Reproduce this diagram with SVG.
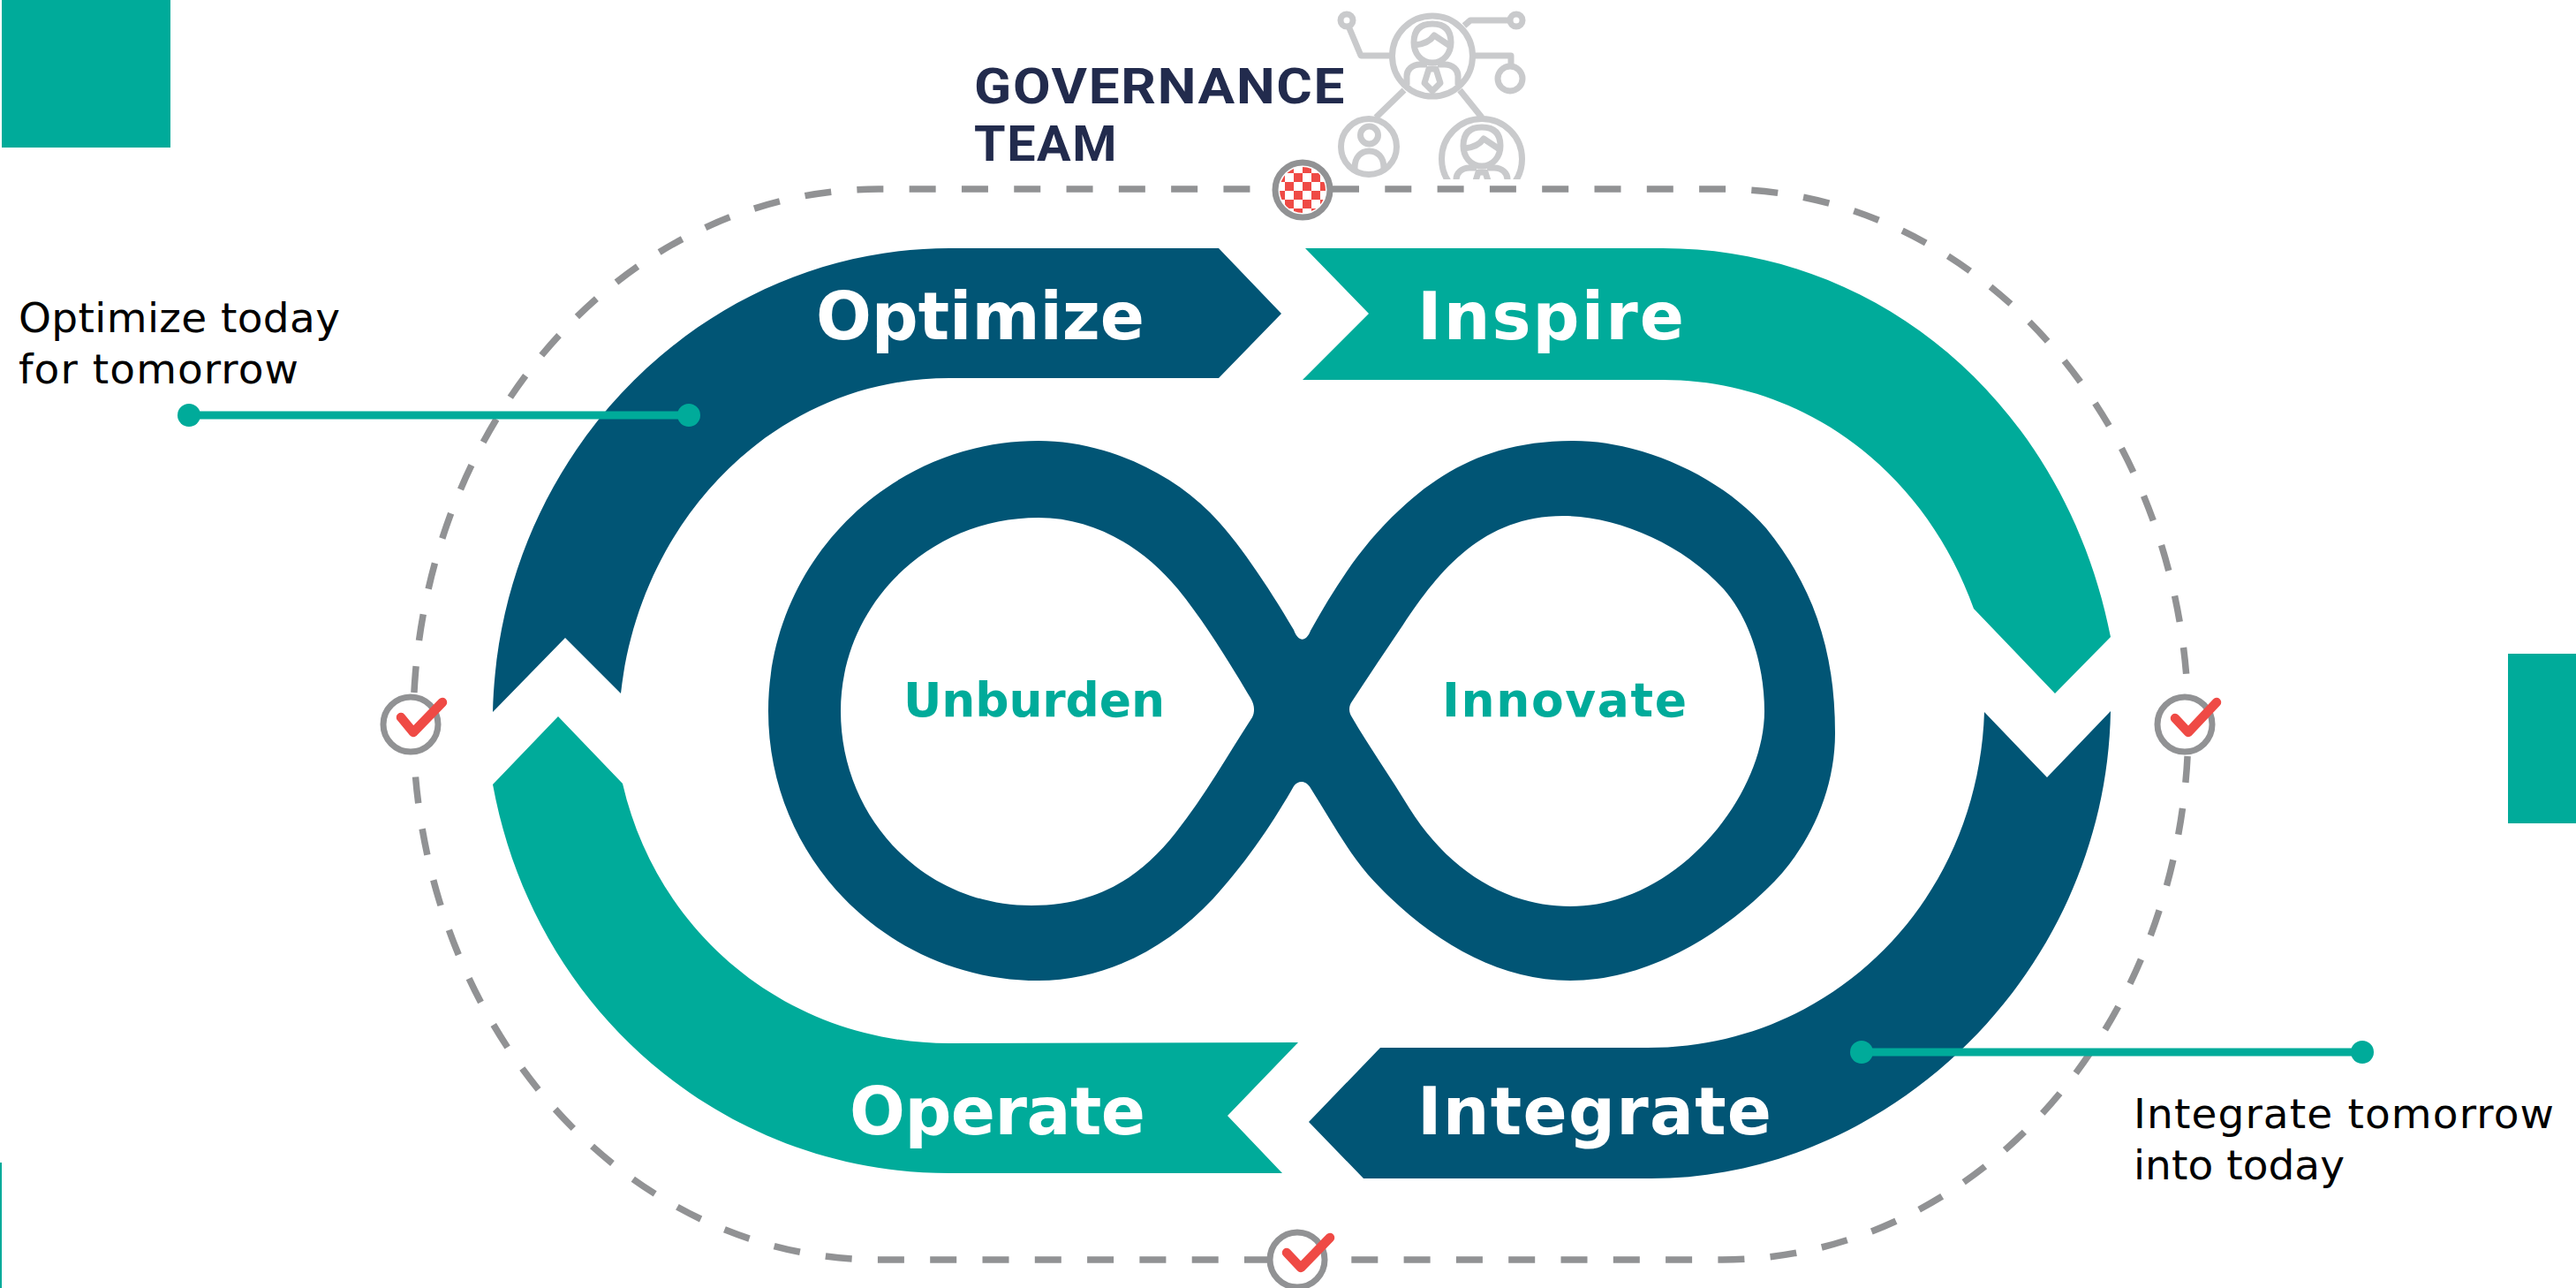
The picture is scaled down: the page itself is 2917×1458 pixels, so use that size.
<svg xmlns="http://www.w3.org/2000/svg" width="2917" height="1458" viewBox="0 0 2917 1458">
<style>
.teal{fill:#00ab9a}.dark{fill:#015575}
.big{font-family:"DejaVu Sans",sans-serif;font-weight:700;font-size:74px;fill:#fff}
.mid{font-family:"DejaVu Sans",sans-serif;font-weight:700;font-size:53.5px;fill:#00ab9a}
.note{font-family:"DejaVu Sans",sans-serif;font-size:47px;fill:#000}
.gov{font-family:Roboto,sans-serif;font-weight:700;font-size:55px;fill:#222b4d;letter-spacing:1.5px}
.track{fill:none;stroke:#919294;stroke-width:7.5;stroke-dasharray:30 29.3}
.ring{fill:#fff;stroke:#919294;stroke-width:7}
.tick{fill:none;stroke:#ef4a45;stroke-width:10.5;stroke-linecap:round;stroke-linejoin:round}
.lead{stroke:#00ab9a;stroke-width:9}
.ico{fill:none;stroke:#c9cacc;stroke-width:7;stroke-linejoin:round}
</style>
<defs>
<pattern id="chk" patternUnits="userSpaceOnUse" x="1465" y="196" width="20" height="20">
<rect width="20" height="20" fill="#fff"/><rect width="10" height="10" fill="#ef4a45"/><rect x="10" y="10" width="10" height="10" fill="#ef4a45"/>
</pattern>
<clipPath id="iconclip"><rect x="1500" y="0" width="260" height="203"/></clipPath>
<g id="person">
<path d="M1601 48C1601 33 1609 27 1622 27C1635 27 1643 33 1643 48C1643 60 1635 71 1622 71C1609 71 1601 60 1601 48Z"/>
<path d="M1602 51C1613 50 1620 46 1624 40L1642 52"/>
<path d="M1593 96V86C1593 79 1599 73 1608 73H1616M1651 96V86C1651 79 1645 73 1636 73H1628"/>
<path d="M1618 78L1613 94L1622 103L1631 94L1626 78Z"/>
</g>
</defs>
<rect class="teal" x="2" y="0" width="191" height="167"/>
<rect class="teal" x="2840" y="740" width="77" height="192"/>
<rect class="teal" x="0" y="1316" width="2" height="142"/>
<g id="connectors">
<path class="track" d="M1475 214H1950A528 606 0 0 1 2478 820" stroke-dashoffset="-34"/>
<path class="track" d="M2478 820A528 606 0 0 1 1950 1426H1469" stroke-dashoffset="-36"/>
<path class="track" d="M1469 1426H995A527 606 0 0 1 468 820" stroke-dashoffset="-30"/>
<path class="track" d="M468 820A527 606 0 0 1 995 214H1475" stroke-dashoffset="-36"/>
</g>
<g id="node-optimize"><path class="dark" d="M1380 281L1451 355L1380 428H1075C880 428 725 585 703 785L640 722L558 806C565 510 800 281 1075 281Z"/><text class="big" x="924" y="384" textLength="372">Optimize</text></g>
<g id="node-inspire"><path class="teal" d="M1478 281H1883C2135 281 2340 465 2390 721L2327 785L2235 689C2180 535 2045 430 1883 430H1475L1550 355Z"/><text class="big" x="1605" y="384" textLength="302">Inspire</text></g>
<g id="node-integrate"><path class="dark" d="M1563 1186H1866C2075 1186 2240 1020 2247 806L2318 880L2390 805C2385 1100 2140 1334 1870 1334H1544L1482 1270Z"/><text class="big" x="1605" y="1284" textLength="401">Integrate</text></g>
<g id="node-operate"><path class="teal" d="M1470 1180L1390 1263L1452 1328H1075C820 1328 605 1145 558 888L632 811L705 887C745 1060 895 1181 1075 1181Z"/><text class="big" x="962" y="1284" textLength="335">Operate</text></g>
<g id="node-infinity"><path class="dark" fill-rule="evenodd" d="M870 805C870 636 1007 499 1176 499C1245 499 1320 530 1370 580C1400 610 1435 662 1465 713C1470 727 1479 727 1484 714C1510 668 1540 618 1585 577C1640 525 1700 499 1782 499C1860 499 1950 540 2000 598C2050 660 2078 730 2078 830C2078 900 2045 965 2000 1007C1945 1060 1865 1110 1778 1110C1690 1110 1610 1058 1549 990C1525 962 1505 925 1484 892C1479 883 1470 883 1465 890C1445 925 1415 972 1374 1017C1320 1075 1250 1110 1176 1110C1007 1110 870 974 870 805Z
M952 805C952 684 1052 586 1176 586C1240 586 1295 620 1334 667C1365 705 1395 755 1416 790C1421 798 1421 806 1418 812C1390 855 1365 900 1331 943C1290 995 1240 1025 1168 1025C1045 1025 952 925 952 805Z
M1528 803C1528 799 1529 797 1531 794C1550 765 1570 735 1589 707C1630 645 1680 584 1770 584C1830 584 1905 615 1952 667C1985 705 1998 760 1998 805C1998 900 1900 1026 1778 1026C1705 1026 1640 985 1596 915C1575 880 1550 845 1531 812C1529 809 1528 806 1528 803Z"/>
<text class="mid" x="1023" y="811" textLength="296">Unburden</text><text class="mid" x="1633" y="811" textLength="277">Innovate</text></g>
<g id="node-governance">
<text class="gov" x="1103" y="117" textLength="421" lengthAdjust="spacingAndGlyphs">GOVERNANCE</text><text class="gov" x="1103" y="182" textLength="163" lengthAdjust="spacingAndGlyphs">TEAM</text>
<g class="ico" clip-path="url(#iconclip)">
<circle cx="1622" cy="63.5" r="45.5"/><circle cx="1525" cy="23" r="7"/><circle cx="1717" cy="23" r="7"/><circle cx="1710" cy="89" r="14"/>
<circle cx="1550" cy="166" r="31.5"/><circle cx="1678" cy="180" r="45.5"/>
<path d="M1528 32L1541 63H1575M1658 29L1665 23H1709M1669 63H1711V75M1590 102L1558 133M1653 102L1678 133"/>
<use href="#person"/><use href="#person" x="56" y="117"/>
<circle cx="1550.5" cy="153" r="10"/><path d="M1534 194V190C1534 178 1541 171 1550.5 171C1560 171 1567 178 1567 190V194"/>
</g>
<circle class="ring" cx="1475" cy="215" r="31"/><circle cx="1475" cy="215" r="26" fill="url(#chk)"/>
</g>
<g id="check-left"><circle class="ring" cx="465" cy="820" r="31"/><path class="tick" d="M454 812L468 829L501 795"/></g>
<g id="check-right"><circle class="ring" cx="2474" cy="820" r="31"/><path class="tick" d="M2463 813L2478 829L2510 795"/></g>
<g id="check-bottom"><circle class="ring" cx="1469" cy="1426" r="31"/><path class="tick" d="M1457 1418L1473 1435L1506 1401"/></g>
<g id="note-optimize"><line class="lead" x1="214" y1="470" x2="780" y2="470"/><circle class="teal" cx="214" cy="470" r="13"/><circle class="teal" cx="780" cy="470" r="13"/>
<text class="note" x="21" y="376" textLength="364">Optimize today</text><text class="note" x="21" y="434" textLength="317">for tomorrow</text></g>
<g id="note-integrate"><line class="lead" x1="2108" y1="1191" x2="2675" y2="1191"/><circle class="teal" cx="2108" cy="1191" r="13"/><circle class="teal" cx="2675" cy="1191" r="13"/>
<text class="note" x="2416" y="1277" textLength="476">Integrate tomorrow</text><text class="note" x="2416" y="1335" textLength="239">into today</text></g>
</svg>
